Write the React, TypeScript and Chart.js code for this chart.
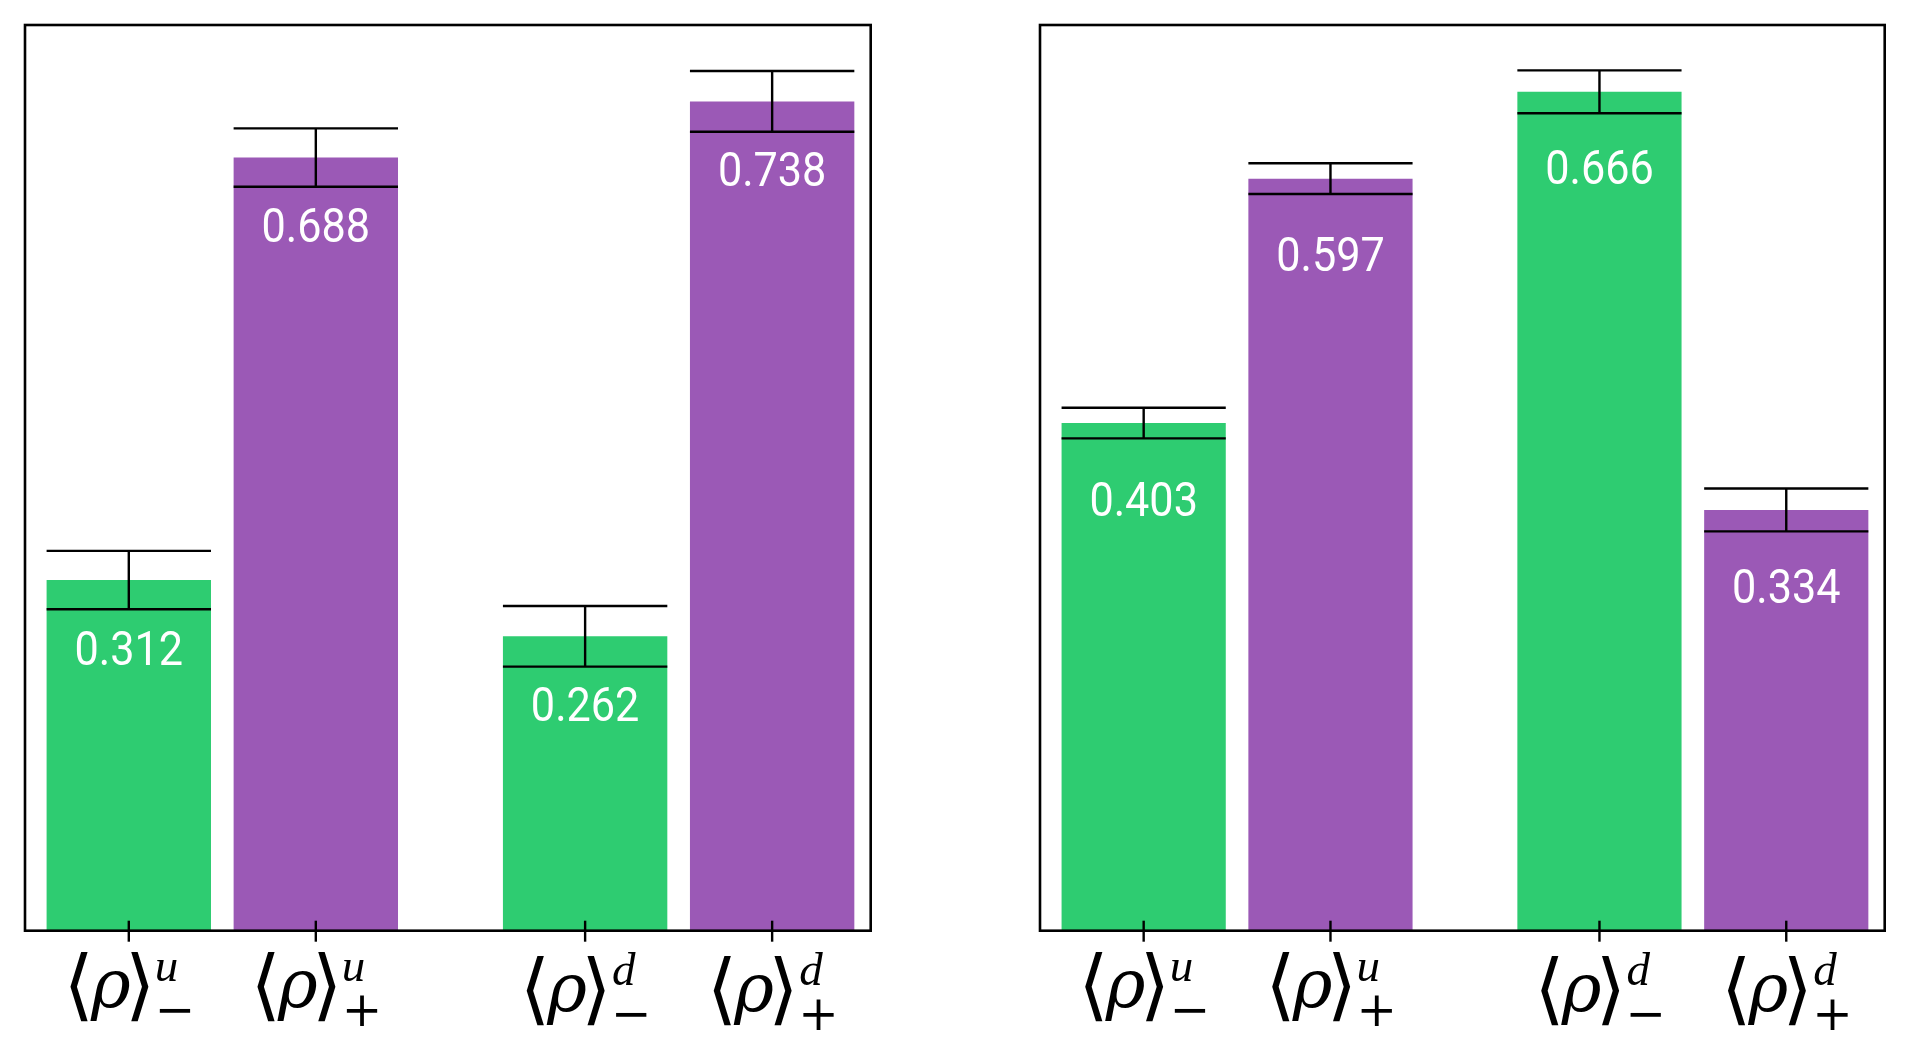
import React, { useEffect, useRef } from "react";
import { Chart, registerables } from "chart.js";

Chart.register(...registerables);

// Bar positions along the x axis (two pairs with a wider gap between them)
const TICK_POS = [0, 1, 2.44, 3.44];
const X_MIN = -0.555;
const X_MAX = 3.967;

// Tick label parts: <rho>^{flavour}_{sign}
const LABEL_FLAVOUR = ["u", "u", "d", "d"];
const LABEL_SIGN = ["\u2212", "+", "\u2212", "+"];

const GREEN = "#2ecc71";
const PURPLE = "#9b59b6";
const BAR_COLORS = [GREEN, PURPLE, GREEN, PURPLE];

// Left panel
const LEFT_VALUES = [0.312, 0.688, 0.262, 0.738];
const LEFT_ERRORS = [0.026, 0.026, 0.027, 0.027];
const LEFT_YMAX = 0.806;

// Right panel
const RIGHT_VALUES = [0.403, 0.597, 0.666, 0.334];
const RIGHT_ERRORS = [0.0122, 0.0122, 0.017, 0.017];
const RIGHT_YMAX = 0.719;

const LABEL_OFFSET = 0.06; // value label sits this far below the bar top (data units)

function fitFont(ctx: CanvasRenderingContext2D, text: string, style: string, family: string, inkHeight: number) {
  ctx.font = `${style} 100px ${family}`;
  const m = ctx.measureText(text);
  const h = m.actualBoundingBoxAscent + m.actualBoundingBoxDescent;
  return `${style} ${((100 * inkHeight) / h).toFixed(2)}px ${family}`;
}

type Piece = { text: string; font: string; x: number; y: number; top: number; skew: number };

function centeredPiece(ctx: CanvasRenderingContext2D, text: string, font: string, cx: number, cy: number, skew = 0): Piece {
  ctx.font = font;
  const m = ctx.measureText(text);
  const x = cx - (m.actualBoundingBoxRight - m.actualBoundingBoxLeft) / 2;
  const y = cy + (m.actualBoundingBoxAscent - m.actualBoundingBoxDescent) / 2;
  return { text, font, x, y, top: y - m.actualBoundingBoxAscent, skew };
}

function leftPiece(ctx: CanvasRenderingContext2D, text: string, font: string, left: number, baseline: number): Piece {
  ctx.font = font;
  const m = ctx.measureText(text);
  return { text, font, x: left + m.actualBoundingBoxLeft, y: baseline, top: baseline - m.actualBoundingBoxAscent, skew: 0 };
}

function drawTickLabel(ctx: CanvasRenderingContext2D, tx: number, axisBottom: number, flavour: string, sign: string) {
  const bracketFamily = "'DejaVu Serif', 'DejaVu Sans', sans-serif";
  const serif = "'Liberation Serif', 'DejaVu Serif', serif";
  const bracketFont = fitFont(ctx, "\u27E8", "200", bracketFamily, 70);
  const rhoFont = fitFont(ctx, "\u03C1", "italic", "'DejaVu Serif', serif", 50);
  const supFont = `italic 47px ${serif}`;
  const signFont = fitFont(ctx, "+", "normal", "'DejaVu Serif', serif", 30);

  const pieces: Piece[] = [
    centeredPiece(ctx, "\u27E8", bracketFont, tx - 49.8, -17.9),
    centeredPiece(ctx, "\u03C1", rhoFont, tx - 18.3, -8.4),
    centeredPiece(ctx, "\u27E9", bracketFont, tx + 11.2, -17.9),
    leftPiece(ctx, flavour, supFont, tx + 28, -23.7),
    centeredPiece(ctx, sign, signFont, tx + 46.5, 6.3),
  ];

  // align the top of the whole label just below the tick
  const top = Math.min(...pieces.map((p) => p.top));
  const base = axisBottom + 21 - top;
  ctx.fillStyle = "#000";
  ctx.textAlign = "left";
  ctx.textBaseline = "alphabetic";
  for (const p of pieces) {
    ctx.font = p.font;
    ctx.fillText(p.text, p.x, p.y + base);
  }
}

const decorPlugin = {
  id: "decor",
  afterDatasetsDraw(chart: any, _args: any, opts: any) {
    const ctx: CanvasRenderingContext2D = chart.ctx;
    const meta = chart.getDatasetMeta(0);
    const y = chart.scales.y;
    const values: number[] = opts.values;
    const errors: number[] = opts.errors;
    ctx.save();
    meta.data.forEach((bar: any, i: number) => {
      const half = bar.width / 2;
      const x = bar.x;
      const yHi = y.getPixelForValue(values[i] + errors[i]);
      const yLo = y.getPixelForValue(values[i] - errors[i]);
      ctx.strokeStyle = "#000";
      ctx.lineWidth = 2.4;
      ctx.beginPath();
      ctx.moveTo(x, yHi);
      ctx.lineTo(x, yLo);
      ctx.moveTo(x - half, yHi);
      ctx.lineTo(x + half, yHi);
      ctx.moveTo(x - half, yLo);
      ctx.lineTo(x + half, yLo);
      ctx.stroke();

      // value label inside the bar
      const text = values[i].toFixed(3);
      ctx.font = "48px Roboto, 'Open Sans', sans-serif";
      ctx.textAlign = "center";
      ctx.textBaseline = "alphabetic";
      const digitH = ctx.measureText("0").actualBoundingBoxAscent;
      const cy = y.getPixelForValue(values[i] - LABEL_OFFSET);
      ctx.save();
      ctx.translate(x, cy + digitH / 2);
      ctx.scale(0.9, 1);
      ctx.fillStyle = "#fff";
      ctx.fillText(text, 0, 0);
      ctx.restore();
    });
    ctx.restore();
  },
  afterDraw(chart: any) {
    const ctx: CanvasRenderingContext2D = chart.ctx;
    const { left, top, right, bottom } = chart.chartArea;
    const xs = chart.scales.x;
    ctx.save();
    ctx.strokeStyle = "#000";
    ctx.lineWidth = 2.6;
    ctx.strokeRect(left, top, right - left, bottom - top);
    ctx.lineWidth = 2.4;
    TICK_POS.forEach((v, i) => {
      const tx = xs.getPixelForValue(v);
      ctx.beginPath();
      ctx.moveTo(tx, bottom - 10);
      ctx.lineTo(tx, bottom + 11);
      ctx.stroke();
      drawTickLabel(ctx, tx, bottom, LABEL_FLAVOUR[i], LABEL_SIGN[i]);
    });
    ctx.restore();
  },
};

type PanelProps = {
  values: number[];
  errors: number[];
  yMax: number;
  left: number;
  width: number;
  padLeft: number;
  padRight: number;
};

function Panel({ values, errors, yMax, left, width, padLeft, padRight }: PanelProps) {
  const ref = useRef<HTMLCanvasElement>(null);
  useEffect(() => {
    if (!ref.current) return;
    const chart = new Chart(ref.current, {
      type: "bar",
      data: {
        datasets: [
          {
            data: TICK_POS.map((x, i) => ({ x, y: values[i] })) as any,
            backgroundColor: BAR_COLORS,
            borderWidth: 0,
            barPercentage: 0.879,
            categoryPercentage: 1,
          },
        ],
      },
      options: {
        animation: false,
        responsive: false,
        events: [],
        layout: { padding: { left: padLeft, right: padRight, top: 25, bottom: 131.3 } },
        plugins: {
          legend: { display: false },
          tooltip: { enabled: false },
          decor: { values, errors },
        } as any,
        scales: {
          x: {
            type: "linear",
            min: X_MIN,
            max: X_MAX,
            offset: false,
            display: false,
            afterBuildTicks: (axis: any) => {
              axis.ticks = TICK_POS.map((v) => ({ value: v }));
            },
          },
          y: { type: "linear", min: 0, max: yMax, display: false },
        },
      },
      plugins: [decorPlugin],
    });
    return () => chart.destroy();
  }, []);
  return (
    <div style={{ position: "absolute", left, top: 0, width, height: 1062 }}>
      <canvas ref={ref} width={width} height={1062} style={{ display: "block" }} />
    </div>
  );
}

export default function App() {
  return (
    <div style={{ position: "fixed", left: 0, top: 0, width: 1911, height: 1062, background: "#fff" }}>
      <Panel values={LEFT_VALUES} errors={LEFT_ERRORS} yMax={LEFT_YMAX} left={0} width={950} padLeft={25} padRight={79.3} />
      <Panel values={RIGHT_VALUES} errors={RIGHT_ERRORS} yMax={RIGHT_YMAX} left={950} width={961} padLeft={90} padRight={26.3} />
    </div>
  );
}
